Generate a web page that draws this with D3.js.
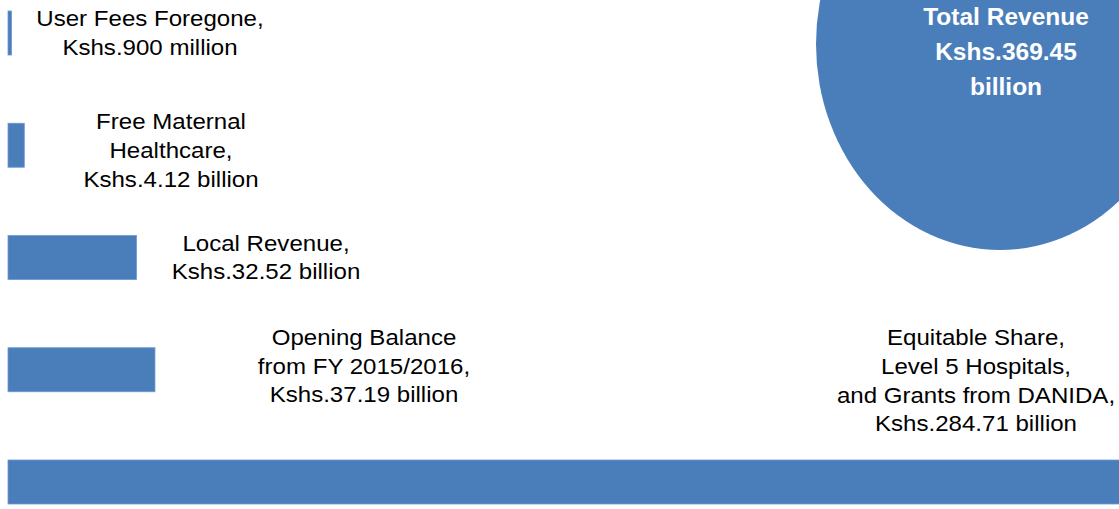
<!DOCTYPE html>
<html>
<head>
<meta charset="utf-8">
<script src="https://cdn.jsdelivr.net/npm/d3@7"></script>
<style>
  html, body { margin: 0; padding: 0; background: #fff; }
  svg { display: block; }
  text { font-family: Arial, "Liberation Sans", sans-serif; fill: #000; }
</style>
</head>
<body>
<div id="chart"></div>
<script>
// data
var categories = ['User Fees Foregone', 'Free Maternal Healthcare', 'Local Revenue',
    'Opening Balance', 'Equitable Share'];
var values = [0.9, 4.12, 32.52, 37.19, 284.71];   // Kshs. billion
var labelLines = [
    ['User Fees Foregone,', 'Kshs.900 million'],
    ['Free Maternal', 'Healthcare,', 'Kshs.4.12 billion'],
    ['Local Revenue,', 'Kshs.32.52 billion'],
    ['Opening Balance', 'from FY 2015/2016,', 'Kshs.37.19 billion'],
    ['Equitable Share,', 'Level 5 Hospitals,', 'and Grants from DANIDA,', 'Kshs.284.71 billion']
];
var totalValue = 369.45;
var totalLines = ['Total Revenue', 'Kshs.369.45', 'billion'];

// layout
var width = 1119, height = 509;
var blue = '#4a7ebb';
var labelX = [150, 171, 266, 364, 976];
var labelDy = [-7, -16, -7, -25, -137];   // first baseline relative to bar centre
var lineGap = 28.8;
var stretch = 1.12;

var svg = d3.select('#chart').append('svg')
    .attr('width', width)
    .attr('height', height);

var x = d3.scaleLinear()
    .domain([0, d3.max(values)])
    .range([8, 1133]);

var y = d3.scaleBand()
    .domain(categories)
    .range([11, 504])
    .paddingInner(0.608)
    .paddingOuter(0);

// total revenue bubble
var r = d3.scaleSqrt().domain([0, totalValue]).range([0, 184]);
svg.append('ellipse')
    .attr('cx', 1000)
    .attr('cy', 44)
    .attr('rx', r(totalValue))
    .attr('ry', r(totalValue) * 206 / 184)
    .attr('fill', blue);

svg.append('g')
    .attr('transform', 'translate(1006,25)')
    .selectAll('text')
    .data(totalLines)
    .enter().append('text')
    .attr('x', 0)
    .attr('y', function(d, i) { return i * 35; })
    .attr('text-anchor', 'middle')
    .style('font-size', '24.5px')
    .style('font-weight', 'bold')
    .style('fill', '#fff')
    .text(function(d) { return d; });

// bars
svg.selectAll('rect.bar')
    .data(values)
    .enter().append('rect')
    .attr('class', 'bar')
    .attr('x', x(0))
    .attr('y', function(d, i) { return y(categories[i]); })
    .attr('width', function(d) { return x(d) - x(0); })
    .attr('height', y.bandwidth())
    .attr('fill', blue)
    .attr('stroke', '#6d98cf')
    .attr('stroke-width', 0.8);

// labels
var labels = svg.selectAll('g.label')
    .data(labelLines)
    .enter().append('g')
    .attr('class', 'label')
    .attr('transform', function(d, i) {
        var cy = y(categories[i]) + y.bandwidth() / 2 + labelDy[i];
        return 'translate(' + labelX[i] + ',' + cy + ') scale(' + stretch + ',1)';
    });

labels.selectAll('text')
    .data(function(d) { return d; })
    .enter().append('text')
    .attr('x', 0)
    .attr('y', function(d, i) { return i * lineGap; })
    .attr('text-anchor', 'middle')
    .style('font-size', '21.5px')
    .text(function(d) { return d; });
</script>
</body>
</html>
